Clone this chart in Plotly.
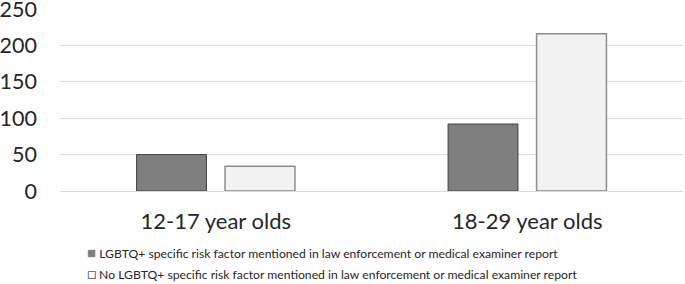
import plotly.graph_objects as go

categories = ["12-17 year olds", "18-29 year olds"]
lgbtq_values = [50, 92]
no_lgbtq_values = [34, 216]
series_names = [
    "LGBTQ+ specific risk factor mentioned in law enforcement or medical examiner report",
    "No LGBTQ+ specific risk factor mentioned in law enforcement or medical examiner report",
]
y_ticks = [0, 50, 100, 150, 200, 250]

FONT = "Lato"
TXT = "#262626"
colors = ["#7f7f7f", "#f2f2f2"]
borders = ["#404040", "#8c8c8c"]

fig = go.Figure()
fig.add_trace(go.Bar(
    x=categories, y=lgbtq_values, name=series_names[0],
    marker=dict(color=colors[0], line=dict(color=borders[0], width=1)),
))
fig.add_trace(go.Bar(
    x=categories, y=no_lgbtq_values, name=series_names[1],
    marker=dict(color=colors[1], line=dict(color=borders[1], width=1.5)),
))

# legend drawn as text rows (small square swatch + label)
swatches = ["■", "□"]
swatch_colors = ["#7f7f7f", "#595959"]
legend_y = [-0.336, -0.451]
for name, sw, sc, yy in zip(series_names, swatches, swatch_colors, legend_y):
    fig.add_annotation(
        xref="paper", yref="paper", x=0.040, y=yy,
        xanchor="left", yanchor="middle", showarrow=False,
        text=f'<span style="color:{sc};font-size:15px">{sw}</span> {name}',
        font=dict(size=12.2, family=FONT, color=TXT),
    )

fig.update_layout(
    width=685, height=284,
    margin=dict(l=60, r=2, t=9, b=93, autoexpand=False),
    paper_bgcolor="white", plot_bgcolor="white",
    barmode="group", bargap=0.432, bargroupgap=0.21,
    font=dict(family=FONT, color=TXT),
    showlegend=False,
    xaxis=dict(
        tickfont=dict(size=22, family=FONT, color=TXT),
        showline=False, ticks="", ticklabelstandoff=15, automargin=False,
    ),
    yaxis=dict(
        range=[0, 250], tickvals=y_ticks,
        tickfont=dict(size=21.5, family=FONT, color=TXT),
        showgrid=True, gridcolor="#d9d9d9", gridwidth=1,
        zeroline=True, zerolinecolor="#d9d9d9", zerolinewidth=1,
        ticks="", ticklabelstandoff=22, automargin=False,
        ticklabeloverflow="allow",
    ),
)

fig.write_html(
    "out.html",
    config={"displayModeBar": False},
    post_script="document.body.style.margin='0';",
)
